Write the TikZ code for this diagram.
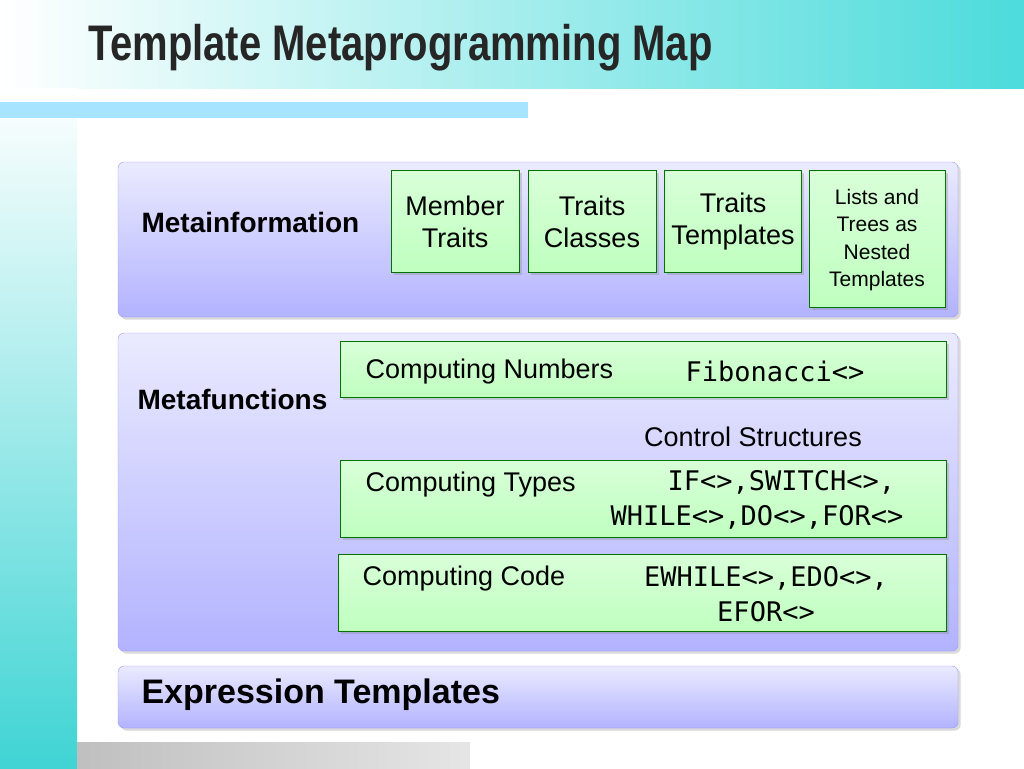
\documentclass[tikz,border=0pt]{standalone}
\usepackage{fontspec}
\setmainfont{Liberation Sans}
\setmonofont{DejaVu Sans Mono}
\usetikzlibrary{positioning,shadows}
\tikzset{
  panel/.style={draw=blue!40!white, rounded corners=6pt, top color=blue!8!white, bottom color=blue!30!white, drop shadow={opacity=0.3}},
  greenbox/.style={draw=green!45!black, top color=white!85!green, bottom color=green!25!white, drop shadow={opacity=0.3}},
  lbl/.style={font=\bfseries\fontsize{28}{32}\selectfont},
  gtext/.style={font=\fontsize{27}{32}\selectfont, align=center},
  code/.style={font=\ttfamily\fontsize{27}{35}\selectfont, align=center}
}
\begin{document}
\begin{tikzpicture}[x=1pt,y=-1pt]
  \useasboundingbox (0,0) rectangle (1024,768);
  % background
  \shade[left color=white, right color=cyan!60!teal!70!white] (0,0) rectangle (1024,88);
  \shade[top color=white, bottom color=cyan!55!teal!75!white] (0,88) rectangle (77,768);
  \fill[blue!30!cyan!35!white] (0,102) rectangle (528,118);
  \shade[left color=gray!50, right color=gray!20] (77,742) rectangle (470,768);
  \node[anchor=west, font=\bfseries\fontsize{50}{55}\selectfont, xscale=0.8, text=black!85] (title) at (86,48) {Template Metaprogramming Map};

  % panels
  \draw[panel] (118,162) rectangle (958,317);
  \draw[panel] (118,333) rectangle (958,651);
  \draw[panel] (118,666) rectangle (958,728);
  \node[lbl, anchor=west] (metainfo) at (138,222) {Metainformation};
  \node[lbl, anchor=west] (metafun) at (134,399) {Metafunctions};
  \node[font=\bfseries\fontsize{34}{38}\selectfont, anchor=west] (expr) at (138,695) {Expression Templates};

  % metainformation boxes
  \draw[greenbox] (391,170) rectangle (519,272);
  \node[gtext] (member) at (455,222) {Member\\Traits};
  \draw[greenbox] (528,170) rectangle (656,272);
  \node[gtext] (classes) at (592,222) {Traits\\Classes};
  \draw[greenbox] (664,170) rectangle (801,272);
  \node[gtext] (templates) at (733,222) {Traits\\Templates};
  \draw[greenbox] (809,170) rectangle (945,307);
  \node[font=\fontsize{21}{27.5}\selectfont, align=center] (lists) at (877,240) {Lists and\\Trees as\\Nested\\Templates};

  % metafunction boxes
  \draw[greenbox] (340,341) rectangle (946,397);
  \node[gtext, anchor=west] (numbers) at (362,372) {Computing Numbers};
  \node[code] (fib) at (775,371) {Fibonacci<>};
  \node[font=\fontsize{27}{32}\selectfont] (control) at (753,437) {Control Structures};
  \draw[greenbox] (340,460) rectangle (946,537);
  \node[gtext, anchor=west] (types) at (362,485) {Computing Types};
  \node[code] (ifsw) at (757,500) {\ \ \ IF<>,SWITCH<>,\\WHILE<>,DO<>,FOR<>};
  \draw[greenbox] (338,554) rectangle (946,631);
  \node[gtext, anchor=west] (codes) at (359,579) {Computing Code};
  \node[code] (ewhile) at (766,594) {EWHILE<>,EDO<>,\\EFOR<>};
\end{tikzpicture}
\end{document}
